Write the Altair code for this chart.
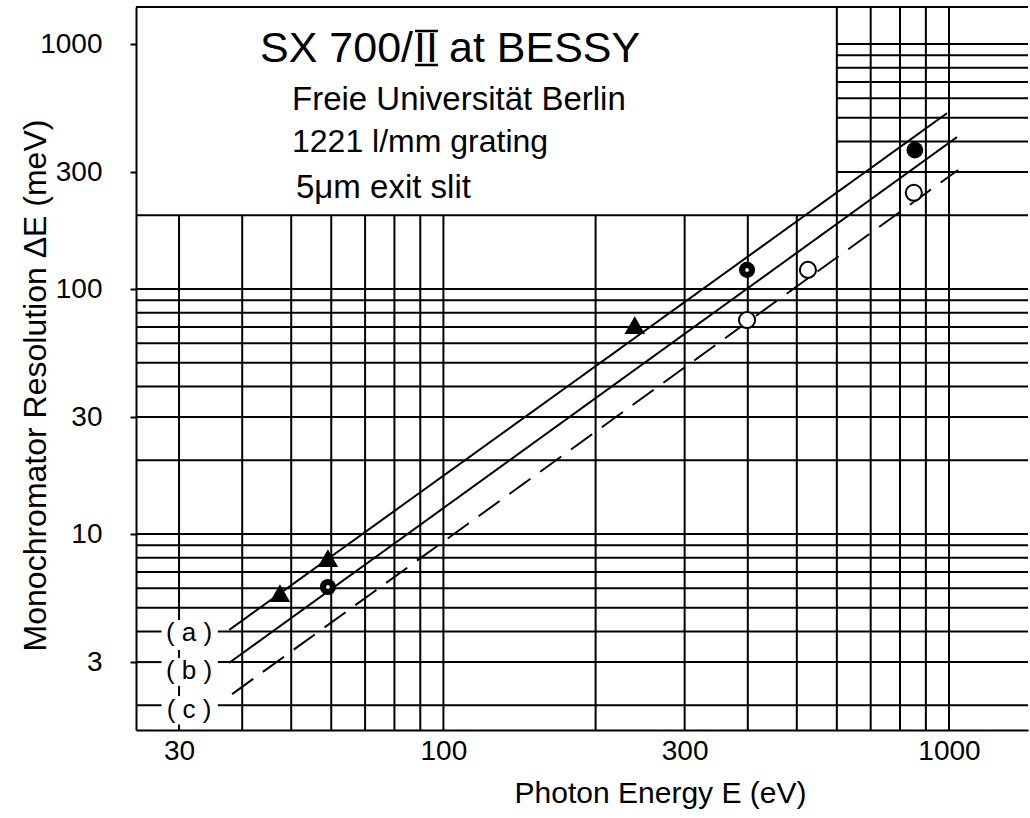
import altair as alt
import pandas as pd

# ---------------- values ----------------
X_MIN, X_MAX = 24.66, 1433      # photon energy range of the frame (eV)
Y_MIN, Y_MAX = 1.585, 1416      # resolution range of the frame (meV)

# straight resolution curves (log-log), end points
curve_a_E = [37.7, 991]
curve_a_R = [4.06, 522]
curve_b_E = [37.7, 1037]
curve_b_R = [2.98, 417]
curve_c_E = [38.2, 1042]
curve_c_R = [2.22, 306]

# measured points
tri_E = [47.5, 59.1, 239]
tri_R = [5.74, 7.98, 71.3]
dot_E = [59.1, 398.6]
dot_R = [6.08, 119.7]
solid_E = [856]
solid_R = [369]
open_E = [398.6, 526, 852]
open_R = [74.7, 119.7, 247]

x_ticks = [30, 100, 300, 1000]
y_ticks = [3, 10, 30, 100, 300, 1000]

# graph-paper rulings
vgrid_full = [600, 700, 800, 900, 1000]
vgrid_lower = [40, 50, 60, 70, 80, 90, 100, 200, 300, 400, 500]
v30_segments = [(4.46, 200), (3.12, 3.36), (2.18, 2.40), (1.585, 1.67)]
hgrid_full = [5, 6, 7, 8, 9, 10, 20, 30, 40, 50, 60, 70, 80, 90, 100, 200]
hgrid_broken = [2, 3, 4]
label_gap = (27.7, 35.8)
hgrid_upper = [300, 400, 500, 600, 700, 800, 900, 1000]

curve_names = ["(\u00a0a\u00a0)", "(\u00a0b\u00a0)", "(\u00a0c\u00a0)"]
curve_name_R = [3.95, 2.75, 1.92]
curve_name_E = [31.4, 31.4, 31.4]

# ---------------- tables ----------------
rows = []
for v in vgrid_full:
    rows.append(dict(E=v, E2=v, R=Y_MIN, R2=Y_MAX))
for v in vgrid_lower:
    rows.append(dict(E=v, E2=v, R=Y_MIN, R2=200))
for a, b in v30_segments:
    rows.append(dict(E=30, E2=30, R=a, R2=b))
for h in hgrid_full:
    rows.append(dict(E=X_MIN, E2=X_MAX, R=h, R2=h))
for h in hgrid_broken:
    rows.append(dict(E=X_MIN, E2=label_gap[0], R=h, R2=h))
    rows.append(dict(E=label_gap[1], E2=X_MAX, R=h, R2=h))
for h in hgrid_upper:
    rows.append(dict(E=600, E2=X_MAX, R=h, R2=h))
rows.append(dict(E=X_MIN, E2=X_MAX, R=Y_MAX, R2=Y_MAX))  # top frame
grid_df = pd.DataFrame(rows)

curves_df = pd.DataFrame({
    "E": curve_a_E + curve_b_E + curve_c_E,
    "R": curve_a_R + curve_b_R + curve_c_R,
    "curve": ["a"] * 2 + ["b"] * 2 + ["c"] * 2,
})
tri_df = pd.DataFrame({"E": tri_E, "R": tri_R})
dot_df = pd.DataFrame({"E": dot_E, "R": dot_R})
solid_df = pd.DataFrame({"E": solid_E, "R": solid_R})
open_df = pd.DataFrame({"E": open_E, "R": open_R})
names_df = pd.DataFrame({"E": curve_name_E, "R": curve_name_R, "t": curve_names})

FONT = "Liberation Sans"

xs = alt.Scale(type="log", domain=[X_MIN, X_MAX], nice=False)
ys = alt.Scale(type="log", domain=[Y_MIN, Y_MAX], nice=False)

xaxis = alt.Axis(
    values=x_ticks, format="d", title="Photon Energy E  (eV)",
    labelFontSize=28, labelFont=FONT, labelColor="black", labelPadding=7,
    ticks=False, grid=False, domainColor="black", domainWidth=2,
    titleFontSize=30, titleFont=FONT, titleFontWeight="normal", titleColor="black",
    titleX=524, titleY=63, titleBaseline="middle", titleAlign="center",
)
yaxis = alt.Axis(
    values=y_ticks, format="d", title="Monochromator Resolution \u0394E  (meV)",
    labelFontSize=28, labelFont=FONT, labelColor="black", labelPadding=28,
    tickSize=6, tickColor="black", tickWidth=2, grid=False,
    domainColor="black", domainWidth=2,
    titleFontSize=32, titleFont=FONT, titleFontWeight="normal", titleColor="black",
    titleX=-101, titleY=378, titleAngle=270, titleBaseline="middle", titleAlign="center",
)

X = alt.X("E:Q", scale=xs, axis=xaxis)
Y = alt.Y("R:Q", scale=ys, axis=yaxis)

grid = alt.Chart(grid_df).mark_rule(color="black", strokeWidth=2).encode(
    x=X, x2="E2:Q", y=Y, y2="R2:Q")

curves = alt.Chart(curves_df).mark_line(color="black", strokeWidth=2).encode(
    x=X, y=Y, detail="curve:N",
    strokeDash=alt.StrokeDash("curve:N", scale=alt.Scale(
        domain=["a", "b", "c"], range=[[1, 0], [1, 0], [26, 12]]), legend=None))

tris = alt.Chart(tri_df).mark_point(shape="triangle-up", filled=True, color="black",
                                    size=420, opacity=1).encode(x=X, y=Y)
dots = alt.Chart(dot_df).mark_circle(color="black", size=260, opacity=1).encode(x=X, y=Y)
dots_c = alt.Chart(dot_df).mark_circle(color="white", size=14, opacity=1).encode(x=X, y=Y)
solid = alt.Chart(solid_df).mark_circle(color="black", size=280, opacity=1).encode(x=X, y=Y)
opens = alt.Chart(open_df).mark_point(shape="circle", filled=True, fill="white",
                                      stroke="black", strokeWidth=2, size=260,
                                      opacity=1).encode(x=X, y=Y)
names = alt.Chart(names_df).mark_text(font=FONT, fontSize=26, color="black",
                                      align="center", baseline="middle").encode(
    x=X, y=Y, text="t:N")


def note(text, x, y, size, align="left"):
    return alt.Chart(pd.DataFrame({"t": [text]})).mark_text(
        font=FONT, fontSize=size, color="black", align=align,
        baseline="alphabetic").encode(x=alt.value(x), y=alt.value(y), text="t:N")


def bar(x1, x2, y):
    return alt.Chart(pd.DataFrame({"k": [0]})).mark_rule(
        color="black", strokeWidth=2.5).encode(
        x=alt.value(x1), x2=alt.value(x2), y=alt.value(y))


notes = [
    note("SX 700/", 124, 55, 43),
    note("II", 290, 55, 43, align="center"),
    note("at BESSY", 313, 55, 43),
    bar(279, 302, 24),
    bar(279, 302, 58),
    note("Freie Universit\u00e4t Berlin", 156, 103, 33),
    note("1221 l/mm grating", 156, 145, 32),
    note("5\u03bcm exit slit", 160, 191, 33),
]

chart = alt.layer(grid, curves, tris, dots, dots_c, solid, opens, names, *notes).properties(
    width=892, height=723,
    padding={"left": 136, "top": 7, "right": 2, "bottom": 88},
    autosize=alt.AutoSizeParams(type="none"),
    background="white",
).configure_view(stroke=None)

chart.save("out.html", embed_options={"renderer": "svg", "actions": False})
